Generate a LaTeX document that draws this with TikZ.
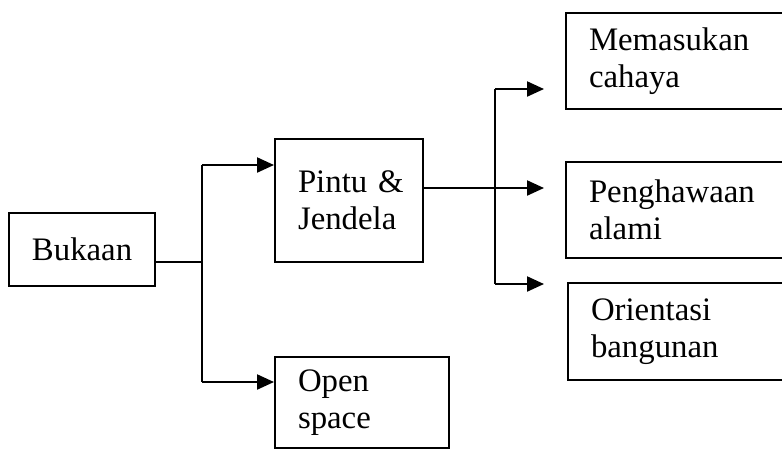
\documentclass[tikz,border=0pt]{standalone}
\usepackage{fontspec}
\setmainfont{Liberation Serif}
\usepackage{tikz}
\usetikzlibrary{arrows.meta}
\tikzset{every node/.append style={font=\fontsize{16.4}{18.5}\selectfont}}
\tikzset{
    box/.style={draw, line width=1pt, rectangle, align=left, inner xsep=11.5pt},
    link/.style={line width=1.1pt},
    arr/.style={line width=1.1pt, -{Triangle[length=8.5pt,width=7.5pt]}}
}

\begin{document}
\begin{tikzpicture}[x=0.5pt, y=-0.5pt]
    \useasboundingbox (0,0) rectangle (782,452);
    \clip (0,0) rectangle (782,452);
    % boxes
    \node[box, minimum width=73pt, minimum height=36.5pt, text width=50pt] (bukaan) at (82,249.5) {Bukaan};
    \node[box, minimum width=74pt, minimum height=61.5pt, text width=51pt] (pintu) at (349,200.5) {Pintu~\&\\Jendela};
    \node[box, minimum width=87pt, minimum height=45.5pt, text width=64pt] (open) at (362,402.5) {Open\\space};
    \node[box, minimum width=117pt, minimum height=48pt, text width=94pt] (masuk) at (683,61) {Memasukan\\cahaya};
    \node[box, minimum width=117pt, minimum height=48pt, text width=94pt] (hawa) at (683,210) {Penghawaan\\alami};
    \node[box, minimum width=116pt, minimum height=48.5pt, text width=93pt] (orient) at (684,331.5) {Orientasi\\bangunan};
    % branch points
    \coordinate (j0) at (202,262);
    \coordinate (j1) at (202,165);
    \coordinate (j2) at (202,382);
    \coordinate (k0) at (495,188);
    \coordinate (k1) at (495,89);
    \coordinate (k2) at (495,284);
    \draw[link] (bukaan.east |- j0) -- (j0);
    \draw[link] (j1) -- (j2);
    \draw[arr] (j1) -- (j1 -| pintu.west);
    \draw[arr] (j2) -- (j2 -| open.west);
    \draw[link] (k1) -- (k2);
    \draw[arr, shorten >=10.5pt] (pintu.east |- k0) -- (k0 -| hawa.west);
    \draw[arr, shorten >=10.5pt] (k1) -- (k1 -| masuk.west);
    \draw[arr, shorten >=11.5pt] (k2) -- (k2 -| orient.west);
\end{tikzpicture}
\end{document}
